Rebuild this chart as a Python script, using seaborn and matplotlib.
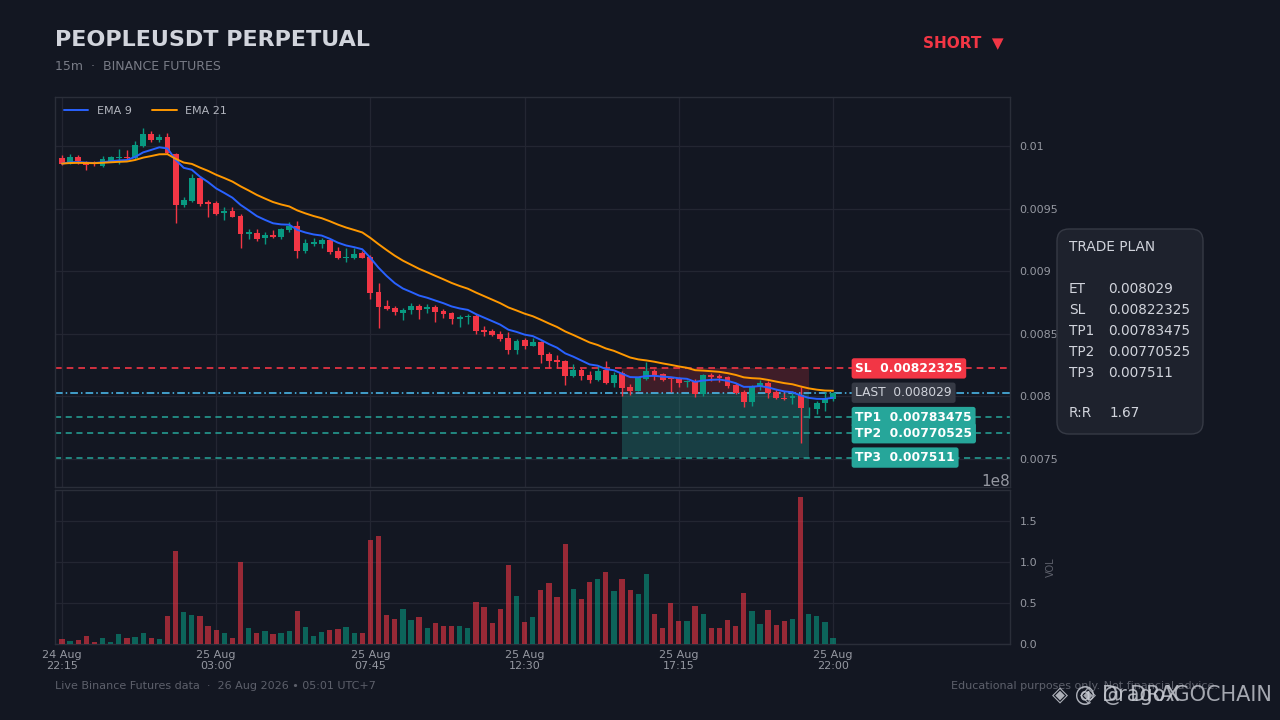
import numpy as np
import pandas as pd
import matplotlib
matplotlib.use("Agg")
import matplotlib.pyplot as plt
import matplotlib.transforms as mtransforms
from matplotlib.patches import FancyBboxPatch
from matplotlib.ticker import FuncFormatter, MultipleLocator
import seaborn as sns

# 15m candles, 24 Aug 22:15 -> 25 Aug 22:00
opens = [0.009907, 0.009859, 0.009912, 0.009870, 0.009866, 0.009840, 0.009880, 0.009902, 0.009910, 0.009902,
         0.010000, 0.010096, 0.010048, 0.010072, 0.009936, 0.009529, 0.009561, 0.009747, 0.009555, 0.009547,
         0.009462, 0.009481, 0.009443, 0.009295, 0.009308, 0.009263, 0.009292, 0.009276, 0.009329, 0.009361,
         0.009161, 0.009217, 0.009217, 0.009249, 0.009161, 0.009108, 0.009108, 0.009145, 0.009116, 0.008834,
         0.008724, 0.008706, 0.008669, 0.008690, 0.008724, 0.008696, 0.008714, 0.008682, 0.008664, 0.008616,
         0.008637, 0.008645, 0.008530, 0.008522, 0.008498, 0.008469, 0.008371, 0.008451, 0.008405, 0.008432,
         0.008339, 0.008291, 0.008283, 0.008163, 0.008211, 0.008171, 0.008131, 0.008211, 0.008109, 0.008184,
         0.008078, 0.008046, 0.008139, 0.008203, 0.008177, 0.008145, 0.008145, 0.008113, 0.008117, 0.008017,
         0.008171, 0.008165, 0.008153, 0.008091, 0.008038, 0.007958, 0.008078, 0.008109, 0.008033, 0.007990,
         0.007985, 0.008011, 0.007905, 0.007899, 0.007945, 0.007977]
highs = [0.009928, 0.009936, 0.009928, 0.009880, 0.009880, 0.009923, 0.009920, 0.009976, 0.009966, 0.010040,
         0.010146, 0.010122, 0.010093, 0.010104, 0.009940, 0.009593, 0.009774, 0.009760, 0.009569, 0.009557,
         0.009515, 0.009510, 0.009457, 0.009337, 0.009335, 0.009313, 0.009332, 0.009345, 0.009391, 0.009401,
         0.009255, 0.009263, 0.009268, 0.009257, 0.009191, 0.009188, 0.009188, 0.009164, 0.009129, 0.008903,
         0.008770, 0.008722, 0.008709, 0.008744, 0.008734, 0.008736, 0.008730, 0.008698, 0.008674, 0.008650,
         0.008658, 0.008654, 0.008562, 0.008534, 0.008525, 0.008517, 0.008459, 0.008469, 0.008464, 0.008443,
         0.008351, 0.008331, 0.008291, 0.008256, 0.008223, 0.008205, 0.008243, 0.008283, 0.008197, 0.008203,
         0.008099, 0.008155, 0.008272, 0.008215, 0.008184, 0.008149, 0.008155, 0.008131, 0.008139, 0.008179,
         0.008184, 0.008175, 0.008163, 0.008107, 0.008051, 0.008091, 0.008131, 0.008123, 0.008059, 0.008025,
         0.008043, 0.008078, 0.007918, 0.007963, 0.008033, 0.008033]
lows = [0.009848, 0.009852, 0.009859, 0.009808, 0.009843, 0.009832, 0.009868, 0.009859, 0.009896, 0.009896,
        0.009992, 0.010034, 0.010030, 0.009936, 0.009383, 0.009513, 0.009553, 0.009523, 0.009435, 0.009449,
        0.009409, 0.009429, 0.009183, 0.009257, 0.009244, 0.009217, 0.009263, 0.009257, 0.009311, 0.009103,
        0.009143, 0.009204, 0.009183, 0.009135, 0.009095, 0.009076, 0.009101, 0.009103, 0.008776, 0.008544,
        0.008690, 0.008650, 0.008610, 0.008658, 0.008618, 0.008669, 0.008597, 0.008626, 0.008578, 0.008557,
        0.008578, 0.008496, 0.008482, 0.008482, 0.008445, 0.008339, 0.008339, 0.008376, 0.008399, 0.008264,
        0.008224, 0.008224, 0.008091, 0.008155, 0.008131, 0.008105, 0.008123, 0.008099, 0.008073, 0.008003,
        0.008011, 0.008039, 0.008131, 0.008131, 0.008123, 0.008033, 0.008078, 0.008073, 0.007998, 0.008006,
        0.008125, 0.008117, 0.008065, 0.008017, 0.007918, 0.007926, 0.008051, 0.007990, 0.007979, 0.007971,
        0.007937, 0.007625, 0.007830, 0.007857, 0.007883, 0.007966]
closes = [0.009859, 0.009910, 0.009880, 0.009848, 0.009852, 0.009894, 0.009910, 0.009910, 0.009902, 0.010008,
          0.010096, 0.010048, 0.010072, 0.009942, 0.009529, 0.009569, 0.009747, 0.009534, 0.009539, 0.009457,
          0.009481, 0.009435, 0.009300, 0.009311, 0.009257, 0.009289, 0.009273, 0.009337, 0.009361, 0.009164,
          0.009225, 0.009231, 0.009249, 0.009156, 0.009103, 0.009116, 0.009137, 0.009108, 0.008828, 0.008717,
          0.008698, 0.008674, 0.008690, 0.008724, 0.008690, 0.008717, 0.008677, 0.008658, 0.008616, 0.008637,
          0.008645, 0.008522, 0.008517, 0.008490, 0.008459, 0.008371, 0.008445, 0.008405, 0.008435, 0.008331,
          0.008283, 0.008272, 0.008163, 0.008211, 0.008163, 0.008131, 0.008205, 0.008109, 0.008171, 0.008070,
          0.008046, 0.008145, 0.008203, 0.008171, 0.008131, 0.008137, 0.008109, 0.008123, 0.008017, 0.008171,
          0.008153, 0.008145, 0.008083, 0.008030, 0.007958, 0.008078, 0.008109, 0.008025, 0.007985, 0.007982,
          0.008006, 0.007905, 0.007910, 0.007950, 0.007977, 0.008029]
# volume in millions
volume_m = [6.1, 3.7, 4.9, 9.8, 2.5, 7.4, 2.5, 12.3, 7.4, 8.6,
            13.5, 7.4, 6.1, 34.4, 113.1, 39.3, 35.7, 34.4, 22.1, 17.2,
            13.5, 7.4, 99.6, 19.7, 13.5, 16.0, 12.3, 13.5, 16.0, 40.6,
            20.9, 9.8, 14.8, 17.2, 18.4, 20.9, 13.5, 13.5, 126.6, 131.6,
            35.7, 30.7, 43.0, 29.5, 33.2, 19.7, 25.8, 22.1, 22.1, 22.1,
            19.7, 51.6, 45.5, 25.8, 43.0, 95.9, 59.0, 27.0, 33.2, 66.4,
            73.8, 57.8, 121.7, 67.6, 55.3, 76.2, 78.7, 87.3, 65.2, 78.7,
            66.4, 61.5, 84.8, 36.9, 19.7, 49.6, 28.3, 28.3, 46.7, 36.9,
            19.7, 19.7, 29.5, 22.1, 62.7, 40.6, 24.6, 41.8, 23.4, 28.3,
            30.7, 179.5, 36.9, 34.4, 27.0, 7.4]

tick_pos = [0, 19, 38, 57, 76, 95]
tick_labels = ["24 Aug\n22:15", "25 Aug\n03:00", "25 Aug\n07:45",
               "25 Aug\n12:30", "25 Aug\n17:15", "25 Aug\n22:00"]

entry = 0.008029
stop_loss = 0.00822325
tp1, tp2, tp3 = 0.00783475, 0.00770525, 0.007511
risk_reward = 1.67
zone_start, zone_end = 69, 92

BG = '#131722'
UP = '#089981'
DOWN = '#f23645'
TEAL = '#26a69a'
GRID = '#232632'
SPINE = '#2a2e39'
TXT = '#9598a1'

sns.set_style('dark', {'axes.facecolor': BG, 'figure.facecolor': BG})
plt.rcParams['font.family'] = ['DejaVu Sans']

df = pd.DataFrame({'open': opens, 'high': highs, 'low': lows, 'close': closes,
                   'volume': np.array(volume_m) * 1e6})
df['idx'] = np.arange(len(df))
df['ema9'] = df['close'].ewm(span=9, adjust=False).mean()
df['ema21'] = df['close'].ewm(span=21, adjust=False).mean()
up = df['close'] >= df['open']
colors = np.where(up, UP, DOWN)

fig = plt.figure(figsize=(12.8, 7.2), dpi=100, facecolor=BG)
ax = fig.add_axes([55 / 1280, 1 - 487 / 720, 955 / 1280, 390 / 720])
axv = fig.add_axes([55 / 1280, 1 - 644 / 720, 955 / 1280, 154 / 720], sharex=ax)

# candles
ax.vlines(df['idx'], df['low'], df['high'], colors=colors, linewidth=1, zorder=3)
body_low = np.minimum(df['open'], df['close'])
body_h = np.maximum((df['close'] - df['open']).abs(), 0.000003)
ax.bar(df['idx'], body_h, bottom=body_low, width=0.72, color=colors, linewidth=0, zorder=4)

sns.lineplot(data=df, x='idx', y='ema9', ax=ax, color='#2962ff', linewidth=1.4, label='EMA 9', zorder=5)
sns.lineplot(data=df, x='idx', y='ema21', ax=ax, color='#ff9800', linewidth=1.4, label='EMA 21', zorder=5)

# trade levels
ax.fill_between([zone_start, zone_end], entry, stop_loss, color=DOWN, alpha=0.2, linewidth=0, zorder=1)
ax.fill_between([zone_start, zone_end], tp3, entry, color=TEAL, alpha=0.28, linewidth=0, zorder=1)
ax.axhline(stop_loss, color=DOWN, linestyle=(0, (4, 3)), linewidth=1.2, zorder=2)
ax.axhline(entry, color='#4fc3f7', linestyle=(0, (5, 2, 1, 2)), linewidth=1.1, zorder=2)
for lvl in (tp1, tp2, tp3):
    ax.axhline(lvl, color=TEAL, linestyle=(0, (4, 3)), linewidth=1.1, zorder=2)

trans = mtransforms.blended_transform_factory(ax.transAxes, ax.transData)
lx = 0.838
ax.text(lx, stop_loss, f"SL  {stop_loss}", transform=trans, color='white', fontsize=8.8,
        fontweight='bold', va='center', zorder=6,
        bbox=dict(boxstyle='round,pad=0.3,rounding_size=0.2', fc=DOWN, ec='none'))
ax.text(lx, entry, f"LAST  {entry}", transform=trans, color='#d1d4dc', fontsize=8.8,
        va='center', zorder=6,
        bbox=dict(boxstyle='round,pad=0.3,rounding_size=0.2', fc='#363a45', ec='none'))
for name, lvl in (("TP1", tp1), ("TP2", tp2), ("TP3", tp3)):
    ax.text(lx, lvl, f"{name}  {lvl}", transform=trans, color='white', fontsize=8.8,
            fontweight='bold', va='center', zorder=6,
            bbox=dict(boxstyle='round,pad=0.3,rounding_size=0.2', fc=TEAL, ec='none'))

ax.set_xlim(-0.86, 116.8)
ax.set_ylim(0.007276, 0.010391)
ax.set_yticks([0.0075, 0.008, 0.0085, 0.009, 0.0095, 0.01])
ax.yaxis.set_major_formatter(FuncFormatter(lambda v, _: f"{v:g}"))
ax.yaxis.tick_right()
ax.set_xticks(tick_pos)
ax.tick_params(axis='x', labelbottom=False, length=0)
ax.tick_params(axis='y', colors=TXT, labelsize=8, length=0, pad=7)
ax.grid(True, color=GRID, linewidth=0.9)
ax.set_xlabel('')
ax.set_ylabel('')
leg = ax.legend(loc='upper left', ncol=2, frameon=False, fontsize=8, labelcolor='#b2b5be',
                handlelength=2.2, columnspacing=1.8, borderaxespad=0.4)

# volume
vol_colors = np.where(up, UP, DOWN)
axv.bar(df['idx'], df['volume'], width=0.65, color=vol_colors, alpha=0.6, linewidth=0, zorder=3)
axv.set_ylim(0, 1.878e8)
axv.yaxis.set_major_locator(MultipleLocator(0.5e8))
axv.yaxis.tick_right()
axv.yaxis.set_label_position('right')
axv.set_ylabel('VOL', color='#5d606b', fontsize=7, labelpad=6)
axv.set_xticks(tick_pos)
axv.set_xticklabels(tick_labels)
axv.tick_params(axis='x', colors=TXT, labelsize=8, length=0, pad=4)
axv.tick_params(axis='y', colors=TXT, labelsize=8, length=0, pad=7)
axv.yaxis.get_offset_text().set_color(TXT)
axv.yaxis.get_offset_text().set_fontsize(11)
axv.grid(True, color=GRID, linewidth=0.9)
axv.set_xlabel('')

for a in (ax, axv):
    a.set_facecolor(BG)
    for s in a.spines.values():
        s.set_visible(True)
        s.set_color(SPINE)
        s.set_linewidth(1)

# header
fig.text(55 / 1280, 1 - 40 / 720, "PEOPLEUSDT PERPETUAL", color='#d1d4dc', fontsize=16,
         fontweight='bold', va='center')
fig.text(55 / 1280, 1 - 66 / 720, "15m  ·  BINANCE FUTURES", color='#787b86', fontsize=9, va='center')
fig.text(1004 / 1280, 1 - 43 / 720, "SHORT  ▼", color=DOWN, fontsize=11, fontweight='bold',
         va='center', ha='right')

# trade plan panel
panel = FancyBboxPatch((1057 / 1280, 1 - 434 / 720), 146 / 1280, 205 / 720,
                       boxstyle='round,pad=0,rounding_size=0.0094', mutation_aspect=1280 / 720,
                       transform=fig.transFigure, facecolor='#1e222d', edgecolor='#363a45',
                       linewidth=1)
fig.patches.append(panel)
fig.text(1069 / 1280, 1 - 247 / 720, "TRADE PLAN", color='#d1d4dc', fontsize=9.8, va='center')
plan_rows = [("ET", f"{entry}", 289), ("SL", f"{stop_loss}", 310), ("TP1", f"{tp1}", 331),
             ("TP2", f"{tp2}", 352), ("TP3", f"{tp3}", 373), ("R:R", f"{risk_reward}", 413)]
for key, val, py in plan_rows:
    fig.text(1069 / 1280, 1 - py / 720, key, color='#d1d4dc', fontsize=9.8, va='center')
    vx = 1110 if key == "R:R" else 1108
    fig.text(vx / 1280, 1 - py / 720, val, color='#d1d4dc', fontsize=9.8, va='center')

# footer (watermark overlaps the disclaimer, as in the source)
fig.text(55 / 1280, 1 - 686 / 720, "Live Binance Futures data  ·  26 Aug 2026 • 05:01 UTC+7",
         color='#5d606b', fontsize=8, va='center')
fig.text(1218 / 1280, 1 - 686 / 720, "Educational purposes only. Not financial advice.",
         color='#5d606b', fontsize=8, va='center', ha='right')
fig.text(1052 / 1280, 1 - 695 / 720, "◈ @ DragoX", color='#c9ccd4', alpha=0.85, fontsize=15,
         va='center')
fig.text(1272 / 1280, 1 - 695 / 720, "◈ @ DRAGOCHAIN", color='#c9ccd4', alpha=0.8, fontsize=15,
         va='center', ha='right')

fig.savefig("out.png", dpi=100, facecolor=BG)
